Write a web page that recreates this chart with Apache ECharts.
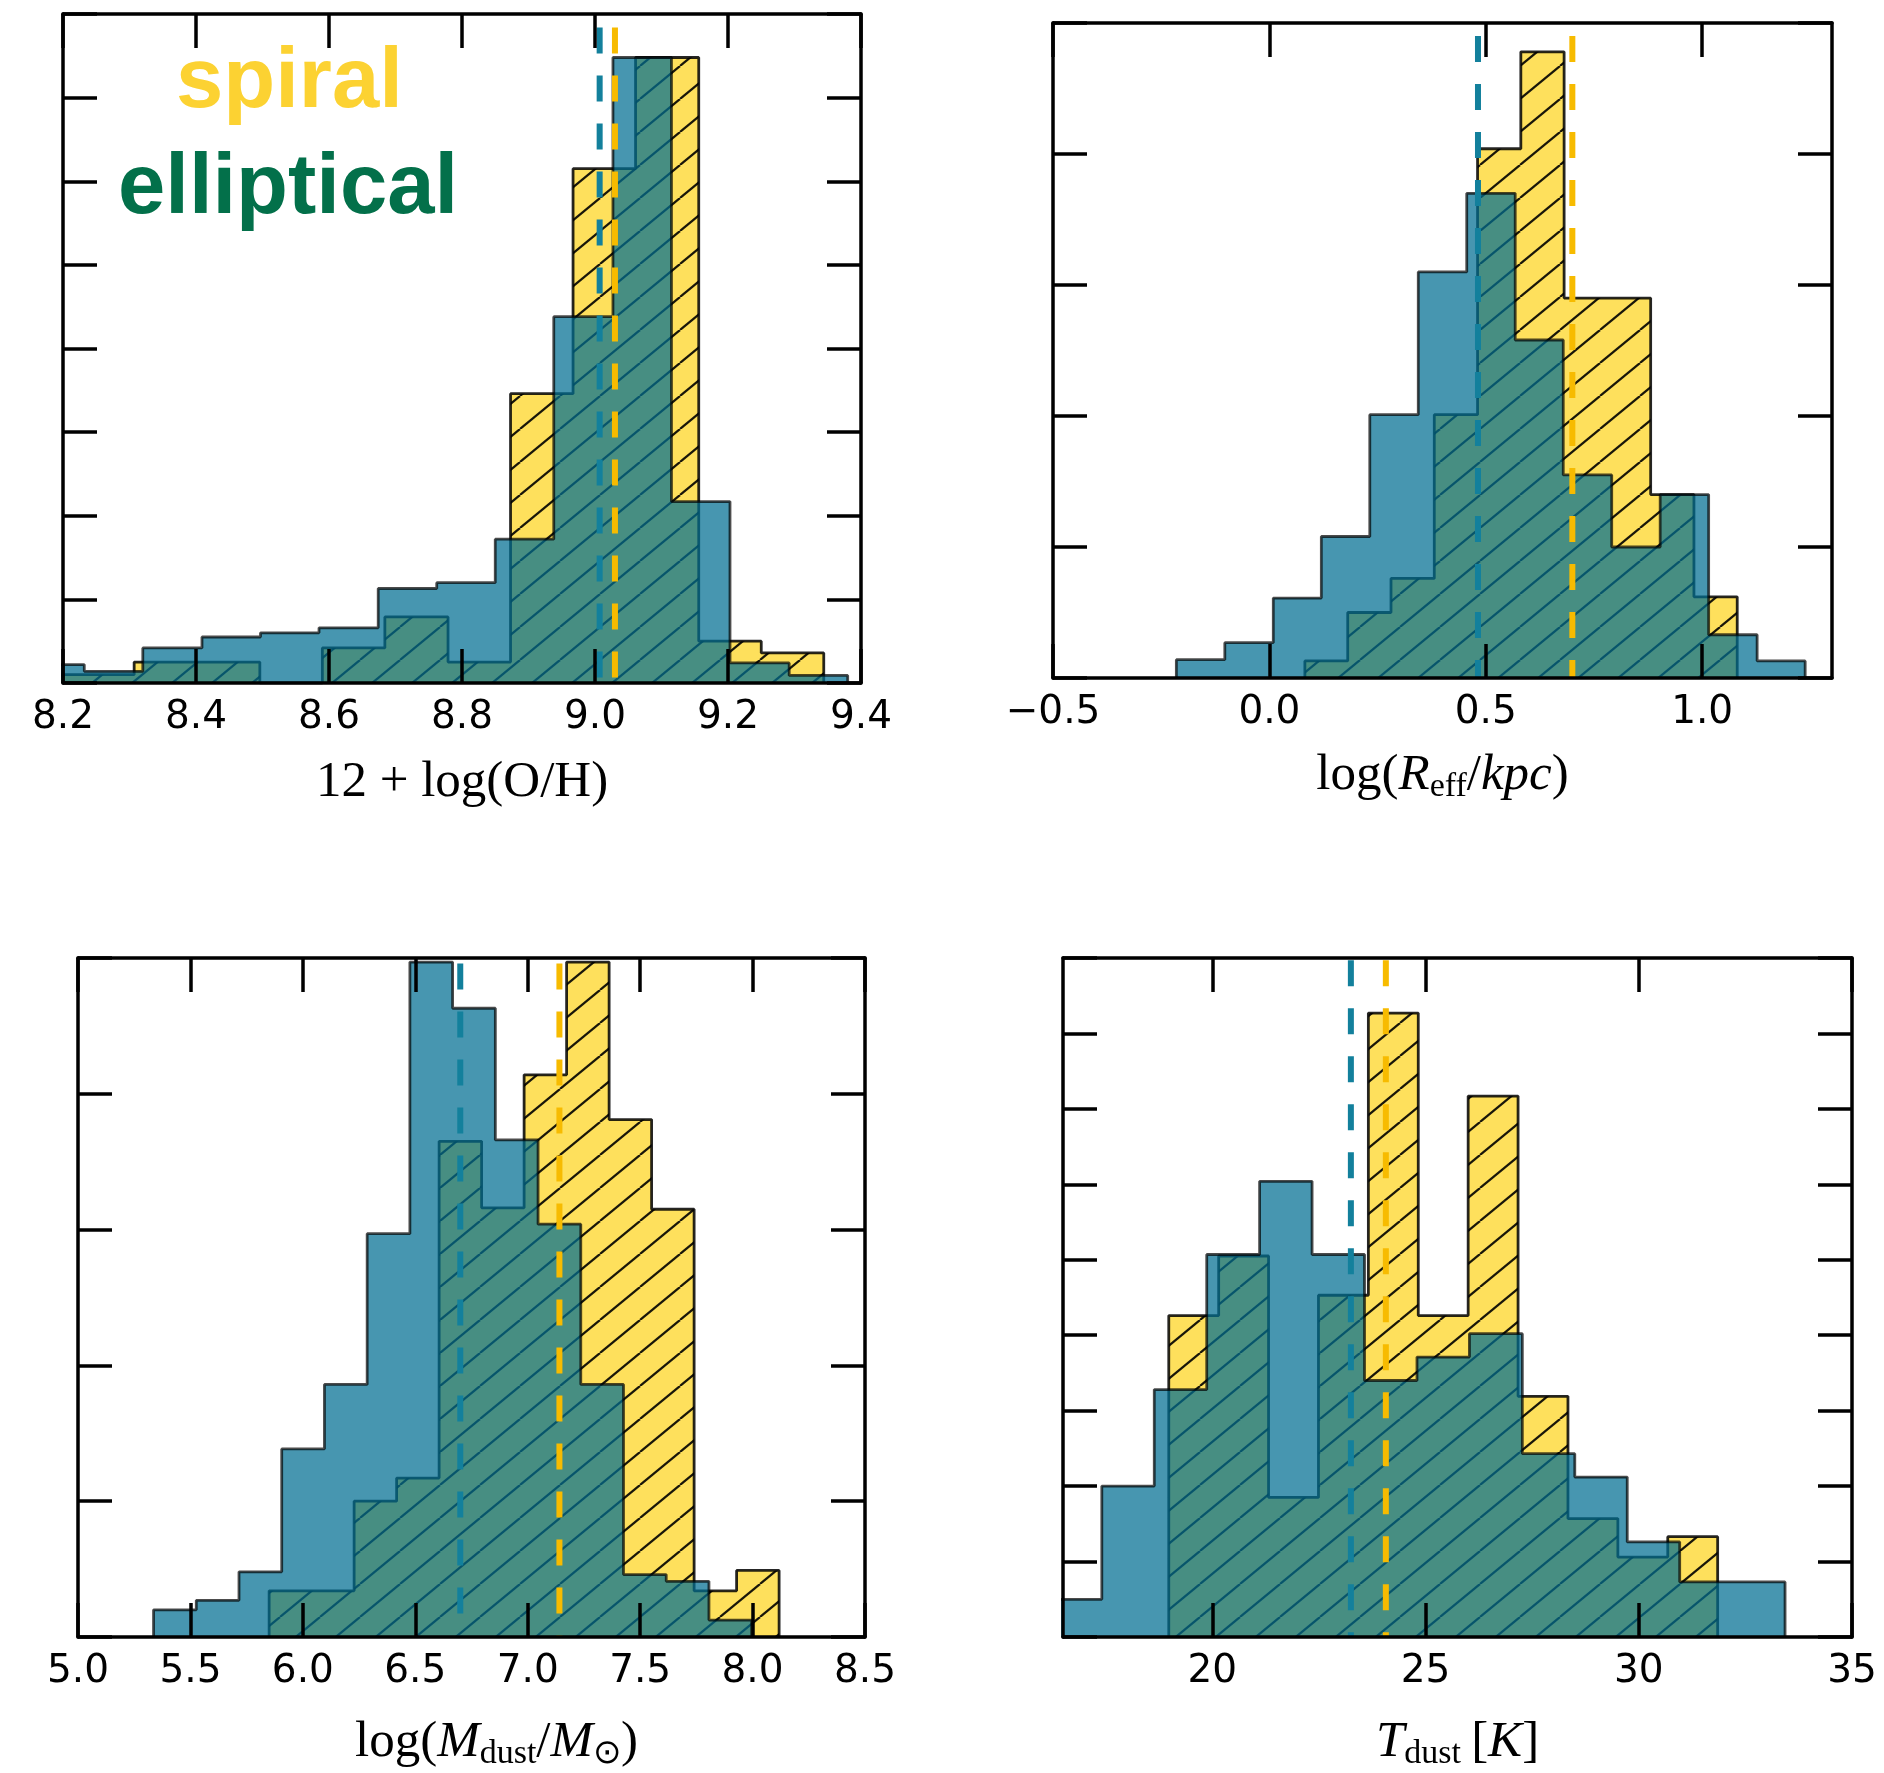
<!DOCTYPE html>
<html>
<head>
<meta charset="utf-8">
<title>spiral vs elliptical</title>
<script src="https://cdn.jsdelivr.net/npm/echarts@6/dist/echarts.min.js"></script>
<style>
html, body { margin: 0; padding: 0; background: #fff; }
#main { width: 1884px; height: 1773px; }
</style>
</head>
<body>
<div id="main"></div>
<script>
// histogram bin edges / heights (elliptical = blue, spiral = yellow hatched)
var ohEllEdges = [8.144, 8.232, 8.320, 8.409, 8.497, 8.585, 8.674, 8.762, 8.850, 8.938, 9.027, 9.115, 9.203, 9.292, 9.380];
var ohEll = [0.22, 0.14, 0.42, 0.55, 0.60, 0.66, 1.13, 1.20, 1.72, 4.38, 7.48, 2.17, 0.24, 0.09];
var ohSpiEdges = [8.119, 8.213, 8.307, 8.401, 8.496, 8.590, 8.684, 8.779, 8.873, 8.967, 9.061, 9.156, 9.250, 9.344];
var ohSpi = [0.10, 0.10, 0.25, 0.25, 0, 0.42, 0.79, 0.25, 3.46, 6.15, 7.48, 0.50, 0.36];

var reEllEdges = [-0.215, -0.103, 0.009, 0.120, 0.232, 0.344, 0.456, 0.568, 0.679, 0.791, 0.903, 1.015, 1.127, 1.238];
var reEll = [0.14, 0.27, 0.61, 1.08, 2.01, 3.10, 3.70, 2.58, 1.55, 1.00, 1.40, 0.33, 0.13];
var reSpiEdges = [0.082, 0.181, 0.281, 0.381, 0.481, 0.581, 0.681, 0.781, 0.881, 0.981, 1.081];
var reSpi = [0.13, 0.50, 0.76, 2.01, 4.04, 4.78, 2.90, 2.90, 1.40, 0.62];

var mdEllEdges = [5.336, 5.526, 5.716, 5.906, 6.096, 6.286, 6.476, 6.666, 6.856, 7.046, 7.236, 7.426, 7.616, 7.806, 7.996];
var mdEll = [0.20, 0.27, 0.48, 1.385, 1.86, 2.97, 4.97, 4.63, 3.66, 3.04, 1.86, 0.46, 0.41, 0.125];
var mdSpiEdges = [5.850, 6.039, 6.228, 6.417, 6.606, 6.795, 6.984, 7.173, 7.362, 7.551, 7.740, 7.929, 8.118];
var mdSpi = [0.34, 0.34, 1.00, 1.17, 3.65, 3.16, 4.14, 4.97, 3.81, 3.15, 0.34, 0.49];

var tdEllEdges = [16.18, 17.41, 18.64, 19.87, 21.11, 22.34, 23.57, 24.80, 26.03, 27.27, 28.50, 29.73, 30.96, 32.20, 33.43];
var tdEll = [0.50, 2.00, 3.28, 5.07, 6.04, 5.07, 3.40, 3.71, 4.02, 2.43, 2.12, 1.26, 0.73, 0.73];
var tdSpiEdges = [18.98, 20.15, 21.32, 22.49, 23.66, 24.83, 26.00, 27.17, 28.34, 29.51, 30.68, 31.85];
var tdSpi = [4.26, 5.05, 1.85, 4.53, 8.27, 4.26, 7.17, 3.19, 1.57, 1.06, 1.33];

// medians (dashed lines): [elliptical, spiral], and how high the dashes reach
var medians = [[9.007, 9.030], [0.482, 0.700], [6.700, 7.141], [23.25, 24.07]];
var dashTops = [7.84, 4.90, 4.96, 8.97];

// axis ranges and tick labels
var xRanges = [[8.2, 9.4], [-0.5, 1.3], [5.0, 8.5], [16.5, 35]];
var yMax = [8, 5, 5, 9];
var xTicks = [
    [8.2, 8.4, 8.6, 8.8, 9.0, 9.2, 9.4],
    [-0.5, 0.0, 0.5, 1.0],
    [5.0, 5.5, 6.0, 6.5, 7.0, 7.5, 8.0, 8.5],
    [20, 25, 30, 35]
];
var xNames = [
    '{r|12 + log(O/H)}',
    '{r|log(}{i|R}{s|eff}{r|/}{i|kpc}{r|)}',
    '{r|log(}{i|M}{s|dust}{r|/}{i|M}{s|\u2299}{r|)}',
    '{i|T}{s|dust}{r|\u2009[}{i|K}{r|]}'
];

// layout (pixels)
var grids = [
    { left: 63, top: 14, width: 798, height: 669 },
    { left: 1053, top: 23, width: 779, height: 655 },
    { left: 78, top: 958, width: 787, height: 679 },
    { left: 1063, top: 958, width: 789, height: 679 }
];
var nameGaps = [72, 70, 78, 78];
var namePads = [0, 0, 50, 0];

var ellColor = 'rgb(0,110,145)';
var spiColor = '#fee05c';

function makeHatch(bg) {
    var w = 40, h = 33;
    var c = document.createElement('canvas');
    c.width = w; c.height = h;
    var ctx = c.getContext('2d');
    ctx.fillStyle = bg;
    ctx.fillRect(0, 0, w, h);
    ctx.strokeStyle = 'rgba(0,0,0,0.9)';
    ctx.lineWidth = 2.2;
    for (var k = -1; k <= 1; k++) {
        ctx.beginPath();
        ctx.moveTo(k * w, h);
        ctx.lineTo(k * w + w, 0);
        ctx.stroke();
    }
    return c;
}
var spiPattern = { image: makeHatch(spiColor), repeat: 'repeat' };

// outline of a filled step histogram
function stepPoints(edges, h) {
    var pts = [[edges[0], 0]];
    for (var i = 0; i < h.length; i++) {
        pts.push([edges[i], h[i]]);
        pts.push([edges[i + 1], h[i]]);
    }
    pts.push([edges[edges.length - 1], 0]);
    return pts;
}

function fmtTick(v) {
    if (Math.abs(v - Math.round(v)) < 1e-9 && v >= 10) return String(Math.round(v));
    var s = Math.abs(v).toFixed(1);
    return v < 0 ? '\u2212' + s : s;
}

var hists = [
    [ohEllEdges, ohEll, ohSpiEdges, ohSpi],
    [reEllEdges, reEll, reSpiEdges, reSpi],
    [mdEllEdges, mdEll, mdSpiEdges, mdSpi],
    [tdEllEdges, tdEll, tdSpiEdges, tdSpi]
];

var nameRich = {
    r: { fontFamily: 'Liberation Serif', fontSize: 51, color: '#000', lineHeight: 56 },
    i: { fontFamily: 'Liberation Serif', fontSize: 51, fontStyle: 'italic', color: '#000', lineHeight: 56 },
    s: { fontFamily: 'Liberation Serif', fontSize: 34, color: '#000', lineHeight: 18, verticalAlign: 'bottom' }
};

var xAxes = [], yAxes = [], series = [];
for (var i = 0; i < 4; i++) {
    for (var t = 0; t < 2; t++) {
        xAxes.push({
            type: 'value', gridIndex: i, position: t ? 'top' : 'bottom',
            min: xRanges[i][0], max: xRanges[i][1], z: 10,
            axisLine: { show: true, onZero: false, lineStyle: { color: '#000', width: 3.5 } },
            axisTick: { show: true, inside: true, length: 34, customValues: xTicks[i], lineStyle: { color: '#000', width: 3.5 } },
            axisLabel: {
                show: !t, customValues: xTicks[i], margin: 15, color: '#000',
                fontSize: 39, fontFamily: 'DejaVu Sans', formatter: fmtTick,
                showMinLabel: true, showMaxLabel: true
            },
            splitLine: { show: false },
            name: t ? '' : xNames[i], nameLocation: 'middle', nameGap: nameGaps[i],
            nameTextStyle: { rich: nameRich, padding: [0, 0, 0, namePads[i]] }
        });
        yAxes.push({
            type: 'value', gridIndex: i, position: t ? 'right' : 'left',
            min: 0, max: yMax[i], interval: 1, z: 10,
            axisLine: { show: true, onZero: false, lineStyle: { color: '#000', width: 3.5 } },
            axisTick: { show: true, inside: true, length: 34, lineStyle: { color: '#000', width: 3.5 } },
            axisLabel: { show: false },
            splitLine: { show: false }
        });
    }
    var h = hists[i];
    series.push({
        name: 'spiral', type: 'line', xAxisIndex: 2 * i, yAxisIndex: 2 * i,
        data: stepPoints(h[2], h[3]), symbol: 'none', clip: true, z: 2, silent: true,
        lineStyle: { color: '#000', width: 2.8, opacity: 0.85 },
        areaStyle: { color: spiPattern, opacity: 1 }
    });
    series.push({
        name: 'elliptical', type: 'line', xAxisIndex: 2 * i, yAxisIndex: 2 * i,
        data: stepPoints(h[0], h[1]), symbol: 'none', clip: true, z: 3, silent: true,
        lineStyle: { color: '#000', width: 2.8, opacity: 0.7 },
        areaStyle: { color: ellColor, opacity: 0.72 }
    });
    series.push({
        type: 'line', xAxisIndex: 2 * i, yAxisIndex: 2 * i,
        data: [[medians[i][0], dashTops[i]], [medians[i][0], 0]], symbol: 'none', z: 5, silent: true,
        lineStyle: { color: '#13809c', width: 6, type: [26, 22], cap: 'butt' }
    });
    series.push({
        type: 'line', xAxisIndex: 2 * i, yAxisIndex: 2 * i,
        data: [[medians[i][1], dashTops[i]], [medians[i][1], 0]], symbol: 'none', z: 5, silent: true,
        lineStyle: { color: '#f7bb00', width: 6, type: [26, 22], cap: 'butt' }
    });
}

var chart = echarts.init(document.getElementById('main'), null, { renderer: 'canvas' });
chart.setOption(
    option = {
        animation: false,
        backgroundColor: '#fff',
        title: [
            { text: 'spiral', left: 176, top: 41, padding: 0,
              textStyle: { color: '#fcd232', fontSize: 85, fontWeight: 'bold', fontFamily: 'Liberation Sans' } },
            { text: 'elliptical', left: 118, top: 147, padding: 0,
              textStyle: { color: '#03704a', fontSize: 85, fontWeight: 'bold', fontFamily: 'Liberation Sans' } }
        ],
        grid: grids,
        xAxis: xAxes,
        yAxis: yAxes,
        series: series
    });
</script>
</body>
</html>
